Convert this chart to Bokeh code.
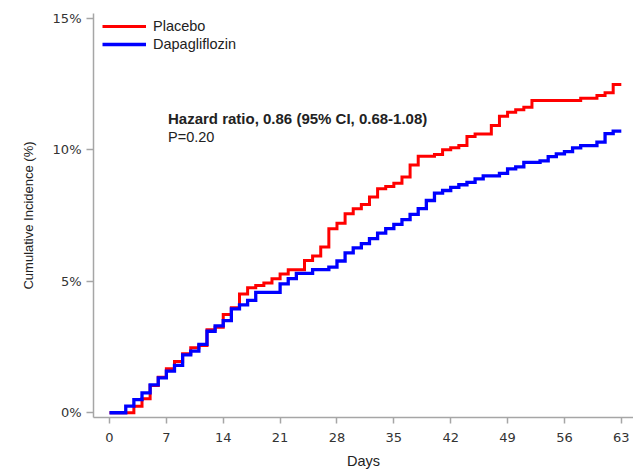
from bokeh.plotting import figure
from bokeh.models import Legend, LegendItem, Label, FixedTicker, PrintfTickFormatter, Range1d
from bokeh.embed import file_html
from bokeh.resources import INLINE

# ---- data ----
placebo_days = [0, 3, 4, 5, 6, 7, 8, 9, 10, 11, 12, 13, 14, 15, 16, 17, 18, 19, 20, 21, 22, 24, 25, 26,
                27, 28, 29, 30, 31, 32, 33, 34, 35, 36, 37, 38, 40, 41, 42, 43, 44, 45, 47, 48, 49, 50,
                51, 52, 58, 60, 61, 62, 63]
placebo_pct = [0, 0.25, 0.53, 1.04, 1.35, 1.67, 1.95, 2.24, 2.47, 2.56, 3.16, 3.25, 3.74, 3.99, 4.52,
               4.75, 4.84, 4.93, 5.10, 5.28, 5.44, 5.79, 5.96, 6.30, 7.00, 7.21, 7.57, 7.76, 7.92, 8.20,
               8.52, 8.60, 8.73, 8.96, 9.42, 9.75, 9.82, 10.00, 10.08, 10.16, 10.50, 10.60, 10.92, 11.27,
               11.43, 11.52, 11.62, 11.87, 11.96, 12.06, 12.17, 12.48, 12.48]

dapa_days = [0, 2, 3, 4, 5, 6, 7, 8, 9, 10, 11, 12, 13, 14, 15, 16, 17, 18, 21, 22, 23, 25, 27, 28,
             29, 30, 31, 32, 33, 34, 35, 36, 37, 38, 39, 40, 41, 42, 43, 44, 45, 46, 48, 49, 50, 51,
             53, 54, 55, 56, 57, 58, 60, 61, 62, 63]
dapa_pct = [0, 0.25, 0.50, 0.76, 1.06, 1.33, 1.58, 1.80, 2.20, 2.34, 2.60, 3.10, 3.30, 3.50, 3.95, 4.10,
            4.27, 4.58, 4.90, 5.10, 5.30, 5.44, 5.54, 5.77, 6.08, 6.27, 6.43, 6.62, 6.83, 7.00, 7.16,
            7.34, 7.54, 7.76, 8.07, 8.35, 8.45, 8.57, 8.67, 8.76, 8.89, 9.01, 9.10, 9.27, 9.35, 9.52,
            9.58, 9.74, 9.84, 9.93, 10.07, 10.16, 10.29, 10.61, 10.71, 10.71]

x_ticks = [0, 7, 14, 21, 28, 35, 42, 49, 56, 63]
y_ticks = [0, 5, 10, 15]
series_names = ["Placebo", "Dapagliflozin"]
hr_text = "Hazard ratio, 0.86 (95% CI, 0.68-1.08)"
p_text = "P=0.20"

# ---- figure ----
p = figure(width=633, height=474, output_backend="svg", toolbar_location=None,
           x_range=Range1d(-1.97, 64.5), y_range=Range1d(-0.18, 15.18),
           min_border_left=93, min_border_right=0, min_border_top=13, min_border_bottom=57,
           background_fill_color="white", border_fill_color="white")
p.outline_line_color = None
p.xgrid.visible = False
p.ygrid.visible = False

r_red = p.step(placebo_days, placebo_pct, mode="after", line_color="#ff0000", line_width=3,
               line_join="miter")
r_blue = p.step(dapa_days, dapa_pct, mode="after", line_color="#0000ff", line_width=3.3,
                line_join="miter")

axis_color = "#a6a6a6"
for ax in (p.xaxis[0], p.yaxis[0]):
    ax.axis_line_color = axis_color
    ax.axis_line_width = 1.5
    ax.major_tick_line_color = axis_color
    ax.major_tick_line_width = 1.5
    ax.minor_tick_line_color = None
    ax.major_tick_in = 0
    ax.major_label_text_font = "DejaVu Sans"
    ax.major_label_text_font_size = "13px"
    ax.major_label_text_color = "#333333"
    ax.axis_label_text_font = "Liberation Sans"
    ax.axis_label_text_font_style = "normal"
    ax.axis_label_text_color = "#222222"

p.xaxis[0].ticker = FixedTicker(ticks=x_ticks)
p.xaxis[0].major_tick_out = 6
p.xaxis[0].major_label_standoff = 9
p.xaxis[0].axis_label = "Days"
p.xaxis[0].axis_label_text_font_size = "14.5px"
p.xaxis[0].axis_label_standoff = 8

p.yaxis[0].ticker = FixedTicker(ticks=y_ticks)
p.yaxis[0].formatter = PrintfTickFormatter(format="%d%%")
p.yaxis[0].major_tick_out = 7
p.yaxis[0].major_label_standoff = 5
p.yaxis[0].axis_label = "Cumulative Incidence (%)"
p.yaxis[0].axis_label_text_font_size = "13px"
p.yaxis[0].axis_label_standoff = 14

legend = Legend(items=[LegendItem(label=series_names[0], renderers=[r_red]),
                       LegendItem(label=series_names[1], renderers=[r_blue])],
                location=(9, 364), margin=0, padding=0, spacing=0,
                glyph_width=44, glyph_height=18, label_height=18, label_standoff=7,
                label_text_font="Liberation Sans", label_text_font_size="14.5px",
                label_text_color="#222222",
                border_line_color=None, background_fill_alpha=0)
p.add_layout(legend)

p.add_layout(Label(x=7.2, y=11.19, text=hr_text, text_font="Liberation Sans",
                   text_font_size="15px", text_font_style="bold", text_color="#222222",
                   text_baseline="middle"))
p.add_layout(Label(x=7.2, y=10.5, text=p_text, text_font="Liberation Sans",
                   text_font_size="14.5px", text_color="#222222", text_baseline="middle"))

open("out.html", "w").write(file_html(p, INLINE))
